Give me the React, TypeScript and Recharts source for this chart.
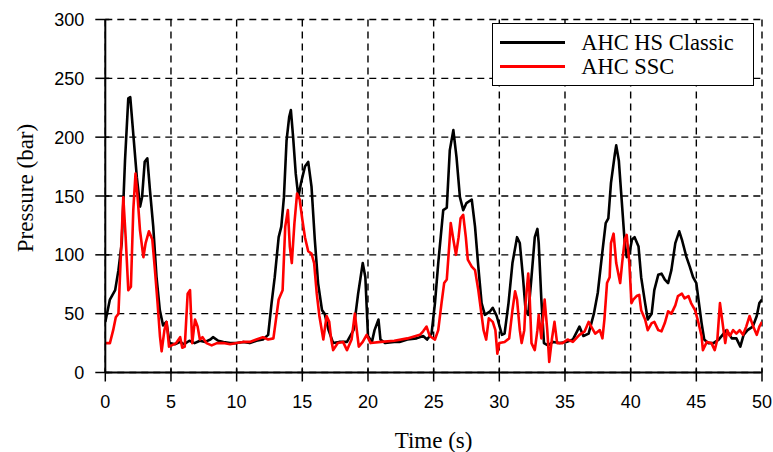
import React from 'react';
import { LineChart, Line, XAxis, YAxis, CartesianGrid, Legend } from 'recharts';

const timeTicks = [0, 5, 10, 15, 20, 25, 30, 35, 40, 45, 50];
const pressureTicks = [0, 50, 100, 150, 200, 250, 300];
const seriesNames = ['AHC HS Classic', 'AHC SSC'];

const classicTime = [
  0, 0.35, 0.75, 1.0, 1.25, 1.5, 1.75, 1.9, 2.15, 2.4,
  2.65, 2.8, 3.0, 3.2, 3.4, 3.65, 3.9, 4.15, 4.4, 4.65,
  4.9, 5.3, 5.7, 6.0, 6.4, 6.8, 7.2, 7.6, 8.0, 8.2,
  8.6, 9.0, 9.5, 10.0, 10.5, 11.0, 11.5, 12.0, 12.4, 12.66,
  12.9, 13.2, 13.4, 13.6, 13.8, 14.0, 14.13, 14.3, 14.5, 14.7,
  14.9, 15.2, 15.45, 15.7, 15.95, 16.2, 16.5, 16.7, 17.0, 17.35,
  17.8, 18.4, 18.9, 19.25, 19.6, 19.8, 20.0, 20.3, 20.5, 20.8,
  20.95, 21.3, 22.0, 22.4, 23.0, 23.7, 24.2, 24.5, 24.84, 25.1,
  25.35, 25.73, 26.0, 26.23, 26.5, 26.74, 27.0, 27.25, 27.5, 27.9,
  28.15, 28.4, 28.65, 28.9, 29.3, 29.5, 29.8, 30.2, 30.4, 30.7,
  31.0, 31.35, 31.56, 31.8, 32.0, 32.2, 32.45, 32.7, 32.9, 33.0,
  33.2, 33.4, 33.7, 34.1, 34.6, 35.1, 35.6, 36.1, 36.4, 36.8,
  37.2, 37.5, 37.8, 38.1, 38.3, 38.5, 38.8, 38.9, 39.1, 39.3,
  39.55, 39.7, 39.9, 40.1, 40.3, 40.6, 40.8, 41.1, 41.3, 41.6,
  41.8, 42.1, 42.35, 42.6, 42.85, 43.1, 43.4, 43.7, 43.9, 44.25,
  44.5, 44.75, 45.0, 45.2, 45.4, 45.6, 45.9, 46.3, 46.7, 47.0,
  47.3, 47.7, 48.05, 48.35, 48.6, 48.9, 49.3, 49.6, 49.8, 50,
];
const classicPressure = [
  43, 62, 70, 87, 110, 180, 233, 234, 200, 166,
  141, 149, 179, 182, 155, 124, 81, 53, 40, 43,
  25, 24, 26, 24, 27, 25, 27, 26, 28, 30,
  27, 26, 25, 25, 26, 25, 27, 28, 32, 59,
  81, 115, 124, 149, 197, 217, 223, 200, 169, 149,
  161, 175, 179, 158, 113, 76, 53, 50, 36, 25,
  26, 26, 36, 67, 93, 81, 31, 26, 36, 45,
  28, 25, 26, 26, 28, 29, 31, 28, 33, 59,
  93, 138, 140, 189, 206, 183, 149, 138, 144, 147,
  124, 90, 59, 49, 52, 55, 48, 32, 33, 59,
  93, 115, 110, 81, 53, 49, 81, 115, 122, 110,
  62, 25, 23, 26, 25, 26, 28, 39, 31, 33,
  50, 68, 98, 127, 131, 161, 186, 193, 180, 149,
  110, 98, 101, 113, 115, 107, 81, 59, 45, 50,
  70, 83, 84, 79, 76, 87, 110, 120, 113, 98,
  90, 81, 76, 59, 42, 28, 25, 25, 28, 32,
  36, 29, 29, 22, 32, 36, 39, 48, 59, 62,
];

const sscTime = [
  0, 0.35, 0.6, 0.8, 1.0, 1.2, 1.37, 1.55, 1.75, 1.95,
  2.13, 2.3, 2.46, 2.64, 2.9, 3.07, 3.32, 3.58, 3.78, 3.98,
  4.16, 4.29, 4.5, 4.67, 4.85, 5.05, 5.4, 5.7, 5.86, 6.05,
  6.27, 6.45, 6.62, 6.83, 7.03, 7.2, 7.4, 7.7, 8.1, 8.5,
  9.0, 9.5, 10.0, 10.5, 11.0, 11.5, 12.0, 12.4, 12.8, 13.2,
  13.5, 13.7, 13.9, 14.05, 14.2, 14.4, 14.6, 14.8, 15.0, 15.2,
  15.45, 15.7, 15.9, 16.1, 16.3, 16.6, 16.85, 17.05, 17.2, 17.35,
  17.7, 18.1, 18.4, 18.75, 19.0, 19.2, 19.3, 19.6, 19.9, 20.2,
  21.0, 22.0, 23.0, 23.95, 24.2, 24.46, 24.7, 25.1, 25.35, 25.6,
  25.8, 26.0, 26.2, 26.3, 26.5, 26.7, 26.9, 27.05, 27.25, 27.45,
  27.6, 27.9, 28.15, 28.4, 28.6, 28.8, 29.0, 29.2, 29.5, 29.7,
  29.85, 30.0, 30.4, 30.75, 31.0, 31.2, 31.35, 31.56, 31.7, 31.9,
  32.0, 32.2, 32.3, 32.45, 32.7, 32.9, 33.0, 33.2, 33.45, 33.65,
  33.8, 34.0, 34.2, 34.4, 34.8, 35.2, 35.6, 36.1, 36.5, 36.8,
  37.0, 37.3, 37.65, 37.85, 38.0, 38.2, 38.4, 38.5, 38.7, 38.9,
  39.2, 39.35, 39.55, 39.7, 39.9, 40.06, 40.2, 40.45, 40.65, 40.8,
  41.1, 41.3, 41.6, 41.8, 42.1, 42.35, 42.6, 42.85, 43.1, 43.4,
  43.6, 43.9, 44.1, 44.4, 44.6, 44.9, 45.1, 45.4, 45.5, 45.8,
  46.15, 46.4, 46.6, 46.8, 47.0, 47.2, 47.35, 47.55, 47.8, 48.05,
  48.3, 48.55, 48.8, 49.05, 49.3, 49.6, 49.8, 50,
];
const sscPressure = [
  25, 25, 36, 47, 50, 104, 149, 115, 70, 73,
  138, 169, 149, 121, 98, 110, 120, 113, 87, 59,
  31, 18, 36, 43, 22, 23, 25, 30, 21, 22,
  67, 70, 25, 45, 39, 28, 30, 25, 23, 25,
  25, 24, 25, 26, 26, 28, 30, 28, 29, 62,
  70, 124, 138, 107, 93, 127, 152, 147, 130, 115,
  103, 101, 93, 67, 48, 28, 48, 43, 28, 19,
  25, 26, 19, 28, 50, 31, 22, 26, 32, 25,
  26, 27, 29, 32, 35, 39, 31, 28, 36, 59,
  76, 79, 110, 127, 113, 100, 115, 131, 134, 115,
  96, 90, 87, 70, 53, 36, 28, 46, 43, 36,
  16, 25, 26, 29, 53, 69, 62, 36, 25, 36,
  59, 84, 67, 25, 19, 36, 49, 29, 62, 36,
  9, 28, 43, 25, 25, 28, 26, 32, 35, 43,
  39, 33, 36, 29, 45, 76, 81, 110, 118, 93,
  76, 93, 113, 117, 93, 59, 62, 65, 66, 53,
  45, 36, 42, 43, 36, 35, 42, 52, 50, 57,
  65, 67, 63, 65, 59, 53, 45, 31, 19, 26,
  25, 19, 28, 59, 42, 25, 36, 31, 36, 33,
  36, 32, 39, 48, 40, 32, 39, 43,
];

const classicData = classicTime.map((t, i) => ({ t, p: classicPressure[i] }));
const sscData = sscTime.map((t, i) => ({ t, p: sscPressure[i] }));

const SANS = '"Liberation Sans", Arial, Helvetica, sans-serif';
const SERIF = '"Liberation Serif", "Times New Roman", serif';

const XTick = (props: any) => {
  const { x, y, payload } = props;
  return (
    <g>
      <line x1={x} x2={x} y1={y - 4} y2={y + 9} stroke="#000" strokeWidth={1.5} />
      <text x={x} y={y + 35.5} textAnchor="middle" fontFamily={SANS} fontSize={18} fill="#000">
        {payload.value}
      </text>
    </g>
  );
};

const YTick = (props: any) => {
  const { x, y, payload } = props;
  return (
    <g>
      <line x1={x - 10} x2={x + 4} y1={y} y2={y} stroke="#000" strokeWidth={1.5} />
      <text x={x - 21} y={y + 6.5} textAnchor="end" fontFamily={SANS} fontSize={18} fill="#000">
        {payload.value}
      </text>
    </g>
  );
};

const TopTick = (props: any) => {
  const { x, y } = props;
  return <line x1={x} x2={x} y1={y} y2={y + 5} stroke="#000" strokeWidth={1.5} />;
};

const RightTick = (props: any) => {
  const { x, y } = props;
  return <line x1={x - 5} x2={x + 4} y1={y} y2={y} stroke="#000" strokeWidth={1.5} />;
};

const XLabel = () => (
  <text x={425.6} y={439.7} textAnchor="middle" fontFamily={SERIF} fontSize={23} fill="#000">
    Time (s)
  </text>
);

const YLabel = () => (
  <text
    x={25}
    y={180}
    transform="rotate(-90, 25, 180)"
    textAnchor="middle"
    fontFamily={SERIF}
    fontSize={23}
    fill="#000"
  >
    Pressure (bar)
  </text>
);

const LegendBox = () => (
  <div
    style={{
      position: 'relative',
      width: 262,
      height: 62.4,
      boxSizing: 'border-box',
      border: '1.6px solid #000',
      background: '#fff',
      fontFamily: SERIF,
      fontSize: 22.5,
      color: '#000',
    }}
  >
    {seriesNames.map((name, i) => (
      <div key={name} style={{ position: 'absolute', left: 0, top: i === 0 ? 18.4 : 42.4, width: '100%' }}>
        <div
          style={{
            position: 'absolute',
            left: 7,
            top: -1.5,
            width: 65,
            height: 3,
            background: i === 0 ? '#000' : '#ff0000',
          }}
        />
        <div style={{ position: 'absolute', left: 88.5, top: -13, lineHeight: '26px', whiteSpace: 'nowrap' }}>
          {name}
        </div>
      </div>
    ))}
  </div>
);

export default function App() {
  return (
    <div style={{ width: 765, height: 444, padding: '8px 0 0 8px', background: '#fff' }}>
      <style>{'html, body { margin: 0; padding: 0; background: #fff; }'}</style>
      <LineChart width={765} height={444} margin={{ top: 11.5, right: 11, bottom: 0, left: 0 }}>
        <CartesianGrid stroke="#000" strokeWidth={1.4} strokeDasharray="7 5" />
        <XAxis
          dataKey="t"
          type="number"
          domain={[0, 50]}
          ticks={timeTicks}
          interval={0}
          height={79.5}
          tickSize={0}
          tickMargin={0}
          tickLine={false}
          tick={<XTick />}
          axisLine={{ stroke: '#000', strokeWidth: 2 }}
          label={<XLabel />}
          allowDataOverflow
        />
        <XAxis
          xAxisId="top"
          orientation="top"
          dataKey="t"
          type="number"
          domain={[0, 50]}
          ticks={timeTicks}
          interval={0}
          height={0}
          tickSize={0}
          tickMargin={0}
          tickLine={false}
          tick={<TopTick />}
          axisLine={{ stroke: '#000', strokeWidth: 2 }}
        />
        <YAxis
          type="number"
          domain={[0, 300]}
          ticks={pressureTicks}
          interval={0}
          width={97.3}
          tickSize={0}
          tickMargin={0}
          tickLine={false}
          tick={<YTick />}
          axisLine={{ stroke: '#000', strokeWidth: 2 }}
          label={<YLabel />}
          allowDataOverflow
        />
        <YAxis
          yAxisId="right"
          orientation="right"
          type="number"
          domain={[0, 300]}
          ticks={pressureTicks}
          interval={0}
          width={0}
          tickSize={0}
          tickMargin={0}
          tickLine={false}
          tick={<RightTick />}
          axisLine={{ stroke: '#000', strokeWidth: 2 }}
        />
        <Line
          data={classicData}
          dataKey="p"
          name={seriesNames[0]}
          type="linear"
          stroke="#000"
          strokeWidth={2.6}
          strokeLinejoin="round"
          dot={false}
          activeDot={false}
          isAnimationActive={false}
        />
        <Line
          data={sscData}
          dataKey="p"
          name={seriesNames[1]}
          type="linear"
          stroke="#ff0000"
          strokeWidth={2.6}
          strokeLinejoin="round"
          dot={false}
          activeDot={false}
          isAnimationActive={false}
        />
        <Legend
          layout="horizontal"
          verticalAlign="middle"
          align="center"
          wrapperStyle={{ position: 'absolute', left: 483.7, top: 15.3, width: 262, height: 62.4 }}
          content={() => <LegendBox />}
        />
      </LineChart>
    </div>
  );
}
